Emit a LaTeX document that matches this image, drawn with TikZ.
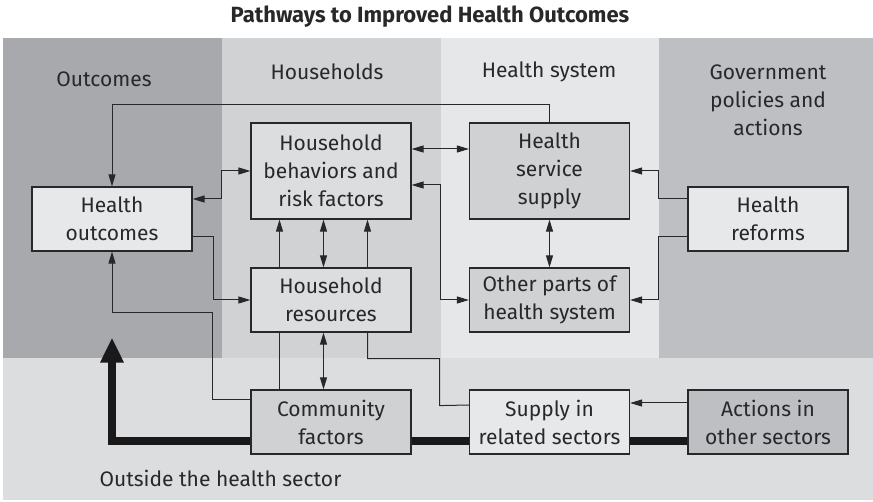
\documentclass[tikz,border=0pt]{standalone}
\usepackage{fontspec}
\setmainfont{Fira Sans}
\usetikzlibrary{arrows.meta,backgrounds,positioning}
\definecolor{outcomeGray}{RGB}{168,169,172}
\definecolor{householdGray}{RGB}{209,210,212}
\definecolor{systemGray}{RGB}{230,231,232}
\definecolor{governGray}{RGB}{190,191,194}
\definecolor{outsideGray}{RGB}{220,221,223}
\definecolor{boxLight}{RGB}{231,232,233}
\definecolor{boxMid}{RGB}{220,221,223}
\definecolor{boxDark}{RGB}{208,209,211}
\definecolor{lineGray}{RGB}{40,40,42}

\begin{document}
\begin{tikzpicture}[x=1pt,y=-1pt,
  >={Triangle[length=12pt,width=7pt]},
  every node/.style={font=\fontsize{21}{28}\selectfont, text=lineGray},
  box/.style={draw=lineGray, line width=1.2pt, minimum width=160pt, minimum height=64pt, inner sep=0pt, align=center},
  tallbox/.style={box, minimum height=96pt},
  link/.style={draw=lineGray, line width=1pt},
  thickflow/.style={line width=7.5pt, draw=black!90, -{Triangle[length=25pt,width=22pt]}}]

\useasboundingbox (0,0) rectangle (873,502);

% title and column heads
\node[font=\bfseries\fontsize{22}{24}\selectfont] (title) at (430,17) {Pathways to Improved Health Outcomes};
\node (hOutcomes) at (104,79) {Outcomes};
\node (hHouse) at (327,72) {Households};
\node (hSystem) at (549,72) {Health system};
\node[align=center] (hGovern) at (768,100) {Government\\policies and\\actions};
\node[anchor=west] (hOutside) at (96,478) {Outside the health sector};

% the boxes
\node[box, fill=boxLight] (outcomes) at (112,219) {Health\\outcomes};
\node[tallbox, fill=boxMid] (behaviors) at (331,171) {Household\\behaviors and\\risk factors};
\node[box, fill=boxMid] (resources) at (331,300) {Household\\resources};
\node[tallbox, fill=boxDark] (service) at (549.5,171) {Health\\service\\supply};
\node[box, fill=boxDark] (otherparts) at (549.5,300) {Other parts of\\health system};
\node[box, fill=boxLight] (reforms) at (768,219) {Health\\reforms};
\node[box, fill=boxDark] (community) at (331,422) {Community\\factors};
\node[box, fill=boxLight] (related) at (549.5,422) {Supply in\\related sectors};
\node[box, fill=governGray] (actions) at (768,422) {Actions in\\other sectors};

% draw the columns and the thick path behind
\begin{scope}[on background layer]
\fill[outsideGray] (3,38) rectangle (873,500);
\foreach \xa/\xb/\col in {3/222/outcomeGray, 222/441/householdGray, 441/659/systemGray, 659/873/governGray}
  \fill[\col] (\xa,38) rectangle (\xb,358);
\draw[thickflow] ([yshift=-19pt]actions.west) -| ([yshift=-86pt]outcomes.south);
\end{scope}

% draw the links
\draw[link,->] (service.north) -- ++(0,-18) -| (outcomes.north);
\draw[link,<->] ([yshift=20pt]outcomes.east) -- ++(29,0) |- (behaviors.west);
\draw[link,->] ([yshift=-18pt]outcomes.east) -- ++(21,0) |- (resources.west);
\draw[link,->] ([yshift=22pt]community.west) -- ++(-38,0) |- ([yshift=-61pt]outcomes.south) -- (outcomes.south);
\foreach \dx in {-51.5,36.5}
  \draw[link,->] ([xshift=\dx pt]resources.north) -- ([xshift=\dx pt]behaviors.south);
\draw[link,<->] ([xshift=-7.5pt]resources.north) -- ([xshift=-7.5pt]behaviors.south);
\draw[link,<->] ([xshift=-7.5pt]resources.south) -- ([xshift=-7.5pt]community.north);
\draw[link] ([xshift=-51.5pt]resources.south) -- ([xshift=-51.5pt]community.north);
\draw[link] ([xshift=36.5pt]resources.south) -- ++(0,26) -| ++(72,47) -- ([yshift=17pt]related.west);
\draw[link,<->] ([yshift=22pt]behaviors.east) -- ([yshift=22pt]service.west);
\draw[link,<->] ([yshift=-14pt]behaviors.east) -- ++(29,0) |- (otherparts.west);
\draw[link,<->] (service.south) -- (otherparts.north);
\draw[link,->] ([yshift=20pt]reforms.west) -- ++(-29,0) |- (service.east);
\draw[link,->] ([yshift=-18pt]reforms.west) -- ++(-29,0) |- (otherparts.east);
\draw[link,->] ([yshift=19pt]actions.west) -- ([yshift=19pt]related.east);

\end{tikzpicture}
\end{document}
